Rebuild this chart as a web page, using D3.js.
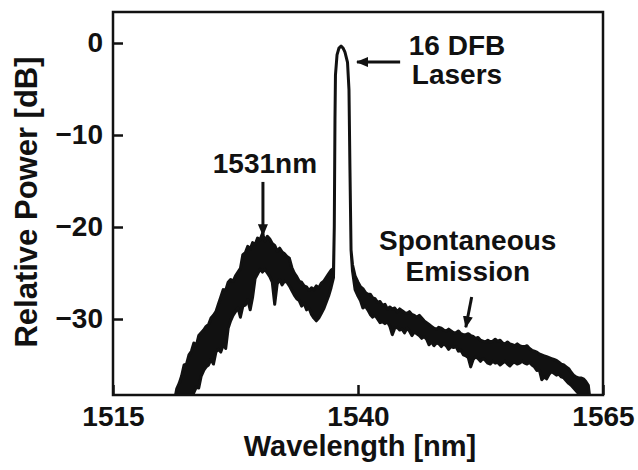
<!DOCTYPE html>
<html lang="en">
  <head>
    <meta charset="UTF-8" />
    <title>Spectrum</title>
    <script src="https://cdn.jsdelivr.net/npm/d3@7"></script>
    <style>
      body { margin: 0; background: #fff; }
      text { font-family: "Liberation Sans", Arial, Helvetica, sans-serif; font-weight: bold; fill: #111; }
    </style>
  </head>

  <body>
    <svg width="638" height="470"></svg>
    <script>
      // trace: upper and lower edge of the noisy band [dB]
      const wavelength = [
        1521, 1521.25, 1521.5, 1521.75, 1522, 1522.25, 1522.5, 1522.75,
        1523, 1523.25, 1523.5, 1523.75, 1524, 1524.25, 1524.5, 1524.75,
        1525, 1525.25, 1525.5, 1525.75, 1526, 1526.25, 1526.5, 1526.75,
        1527, 1527.25, 1527.5, 1527.75, 1528, 1528.25, 1528.5, 1528.75,
        1529, 1529.25, 1529.5, 1529.75, 1530, 1530.25, 1530.5, 1530.75,
        1531, 1531.25, 1531.5, 1531.75, 1532, 1532.25, 1532.5, 1532.75,
        1533, 1533.25, 1533.5, 1533.75, 1534, 1534.25, 1534.5, 1534.75,
        1535, 1535.25, 1535.5, 1535.75, 1536, 1536.25, 1536.5, 1536.75,
        1537, 1537.25, 1537.5,
        1537.58, 1537.65, 1537.7, 1537.86, 1538.06, 1538.27, 1538.47, 1538.67,
        1538.93, 1539.08, 1539.18, 1539.29, 1539.44,
        1539.7,
        1540, 1540.25, 1540.5, 1540.75, 1541, 1541.25, 1541.5, 1541.75,
        1542, 1542.25, 1542.5, 1542.75, 1543, 1543.25, 1543.5, 1543.75,
        1544, 1544.25, 1544.5, 1544.75, 1545, 1545.25, 1545.5, 1545.75,
        1546, 1546.25, 1546.5, 1546.75, 1547, 1547.25, 1547.5, 1547.75,
        1548, 1548.25, 1548.5, 1548.75, 1549, 1549.25, 1549.5, 1549.75,
        1550, 1550.25, 1550.5, 1550.75, 1551, 1551.25, 1551.5, 1551.75,
        1552, 1552.25, 1552.5, 1552.75, 1553, 1553.25, 1553.5, 1553.75,
        1554, 1554.25, 1554.5, 1554.75, 1555, 1555.25, 1555.5, 1555.75,
        1556, 1556.25, 1556.5, 1556.75, 1557, 1557.25, 1557.5, 1557.75,
        1558, 1558.25, 1558.5, 1558.75, 1559, 1559.25, 1559.5, 1559.75,
        1560, 1560.25, 1560.5, 1560.75, 1561, 1561.25, 1561.5, 1561.75,
        1562, 1562.25, 1562.5, 1562.75, 1563, 1563.25, 1563.5,
        1563.7
      ];
      const upper = [
        -40.0, -39.0, -37.6, -37.0, -36.2, -35.0, -34.9, -33.9,
        -33.5, -32.6, -32.9, -31.8, -31.5, -31.2, -30.8, -30.6,
        -29.9, -29.6, -29.2, -28.4, -27.6, -26.8, -26.9, -26.0,
        -25.7, -25.9, -25.3, -24.9, -24.5, -23.0, -22.8, -22.1,
        -22.4, -21.7, -21.9, -21.2, -21.4, -20.7, -21.5, -21.0,
        -21.3, -21.8, -22.0, -22.6, -22.3, -22.7, -22.9, -23.2,
        -23.4, -24.4, -25.0, -25.4, -25.9, -26.0, -26.4, -26.5,
        -26.9, -26.6, -26.8, -26.4, -26.6, -26.1, -25.9, -25.5,
        -25.1, -24.7, -24.5,
        -20.0, -8.4, -3.5, -1.3, -0.54, -0.33, -0.54, -1.0,
        -2.1, -5.1, -13.8, -22.5, -24.1,
        -25.3,
        -26.0, -26.5, -26.7, -27.1, -27.3, -27.3, -27.7, -27.8,
        -28.2, -28.1, -28.5, -28.4, -28.9, -28.7, -28.9, -28.8,
        -29.2, -28.9, -29.1, -29.3, -29.4, -29.2, -29.5, -29.6,
        -29.8, -29.6, -29.9, -30.2, -30.4, -30.6, -30.8, -31.0,
        -31.1, -30.9, -31.0, -31.2, -31.3, -31.1, -31.3, -31.5,
        -31.5, -31.3, -31.6, -31.7, -31.7, -31.6, -31.8, -31.9,
        -32.1, -32.0, -32.3, -32.4, -32.5, -32.3, -32.5, -32.4,
        -32.2, -32.4, -32.3, -32.6, -32.7, -32.5, -32.7, -32.8,
        -32.9, -32.7, -32.9, -33.0, -33.0, -32.9, -33.2, -33.4,
        -33.5, -33.6, -33.8, -33.9, -34.0, -34.1, -34.2, -34.3,
        -34.4, -34.5, -34.7, -34.9, -35.0, -35.2, -35.4, -35.8,
        -36.1, -36.3, -36.4, -36.4, -36.5, -36.8, -37.2,
        -39.0
      ];
      const lower = [
        -44.0, -44.0, -43.0, -42.5, -41.0, -40.5, -39.6, -39.8,
        -38.5, -38.0, -37.4, -37.5, -36.2, -35.6, -35.2, -35.0,
        -34.4, -34.9, -33.6, -33.3, -33.6, -32.8, -33.2, -31.0,
        -30.2, -29.6, -29.2, -28.8, -29.8, -28.6, -28.5, -27.9,
        -29.0, -27.6, -25.6, -25.1, -24.6, -24.9, -24.6, -25.0,
        -25.4, -26.0, -28.4, -26.2, -25.7, -26.3, -25.9, -26.0,
        -26.4, -26.9, -27.4, -27.8, -28.0, -28.6, -28.3, -29.0,
        -28.8, -29.5, -29.9, -30.2, -29.9, -29.4, -28.9, -28.2,
        -27.5, -26.6, -25.5,
        -20.0, -8.4, -3.5, -1.3, -0.54, -0.33, -0.54, -1.0,
        -2.1, -5.1, -13.8, -22.5, -24.8,
        -26.8,
        -27.5, -28.0, -28.8, -28.6, -29.0, -29.5, -29.8, -29.6,
        -30.0, -30.4, -30.3, -30.5, -30.3, -30.8, -31.7, -31.0,
        -30.9, -31.2, -31.1, -31.5, -31.0, -31.3, -31.8, -31.4,
        -31.6, -31.8, -32.1, -31.9, -32.2, -32.8, -32.5, -32.9,
        -32.6, -32.7, -33.0, -32.7, -32.9, -33.3, -33.0, -33.1,
        -33.0, -33.5, -33.4, -33.9, -34.0, -34.2, -35.2, -34.4,
        -34.1, -34.3, -34.6, -34.3, -34.5, -34.8, -34.9, -34.6,
        -34.8, -34.7, -35.0, -34.8, -34.6, -34.9, -35.1, -34.8,
        -34.7, -34.9, -34.8, -34.6, -34.8, -34.9, -34.7, -35.0,
        -35.2, -35.6, -35.5, -36.6, -36.3, -36.5, -36.0, -35.7,
        -35.9, -36.1, -36.0, -36.3, -36.4, -36.7, -37.0, -37.2,
        -37.5, -37.8, -38.1, -38.4, -38.6, -39.0, -39.5,
        -41.0
      ];
      const xTicks = [1515, 1540, 1565];
      const yTicks = [0, -10, -20, -30];

      const svg = d3.select("svg");
      const frame = { left: 113, right: 603, top: 12, bottom: 395 };

      const x = d3.scaleLinear().domain([1515, 1565]).range([frame.left, frame.right]);
      const y = d3.scaleLinear().domain([-38.26, 3.37]).range([frame.bottom, frame.top]);

      const defs = svg.append("defs");
      defs.append("clipPath")
        .attr("id", "plot")
        .append("rect")
        .attr("x", frame.left)
        .attr("y", frame.top)
        .attr("width", frame.right - frame.left)
        .attr("height", frame.bottom - frame.top);

      const pts = wavelength.map((w, i) => ({ w: w, hi: upper[i], lo: lower[i] }));

      const band = d3
        .area()
        .x((d) => x(d.w))
        .y0((d) => y(d.lo))
        .y1((d) => y(d.hi));

      svg.append("path")
        .datum(pts)
        .attr("clip-path", "url(#plot)")
        .attr("fill", "#111")
        .attr("stroke", "#111")
        .attr("stroke-width", 3)
        .attr("stroke-linejoin", "round")
        .attr("d", band);

      // frame
      svg.append("rect")
        .attr("x", frame.left)
        .attr("y", frame.top)
        .attr("width", frame.right - frame.left)
        .attr("height", frame.bottom - frame.top)
        .attr("fill", "none")
        .attr("stroke", "#111")
        .attr("stroke-width", 2.5);

      const yAxis = svg.append("g")
        .attr("transform", "translate(" + frame.left + ",0)")
        .call(d3.axisLeft(y).tickValues(yTicks).tickSize(-10).tickPadding(10));
      const xAxis = svg.append("g")
        .attr("transform", "translate(0," + frame.bottom + ")")
        .call(d3.axisBottom(x).tickValues(xTicks).tickSize(-10).tickPadding(11).tickFormat(d3.format("d")));

      [xAxis, yAxis].forEach((a) => {
        a.select(".domain").remove();
        a.selectAll("line").attr("stroke", "#111").attr("stroke-width", 2.5);
        a.selectAll("text")
          .attr("font-size", 28)
          .attr("fill", "#111")
          .attr("font-family", "Liberation Sans, Arial, sans-serif")
          .attr("font-weight", "bold");
      });

      svg.append("text")
        .attr("x", 360)
        .attr("y", 456)
        .attr("text-anchor", "middle")
        .attr("font-size", 29)
        .text("Wavelength [nm]");

      svg.append("text")
        .attr("transform", "translate(37,202) rotate(-90)")
        .attr("text-anchor", "middle")
        .attr("font-size", 31)
        .text("Relative Power [dB]");

      // annotations, placed in data units
      const labels = [
        { w: 1530.5, db: -14.1, t: "1531nm" },
        { w: 1550.1, db: -1.35, t: "16 DFB" },
        { w: 1550.1, db: -4.5, t: "Lasers" },
        { w: 1551.2, db: -22.55, t: "Spontaneous" },
        { w: 1551.2, db: -25.9, t: "Emission" }
      ];
      const arrows = [
        { w0: 1530.3, d0: -15.1, w1: 1530.3, d1: -20.9 },
        { w0: 1544.3, d0: -2.07, w1: 1539.9, d1: -2.07 },
        { w0: 1551.6, d0: -27.6, w1: 1551.0, d1: -30.9 }
      ];

      defs.append("marker")
        .attr("id", "head")
        .attr("viewBox", "0 0 12 10")
        .attr("refX", 11)
        .attr("refY", 5)
        .attr("markerWidth", 12)
        .attr("markerHeight", 10)
        .attr("markerUnits", "userSpaceOnUse")
        .attr("orient", "auto")
        .append("path")
        .attr("d", "M0,0L12,5L0,10Z")
        .attr("fill", "#111");

      svg.selectAll(".note")
        .data(labels)
        .join("text")
        .attr("class", "note")
        .attr("x", (d) => x(d.w))
        .attr("y", (d) => y(d.db))
        .attr("text-anchor", "middle")
        .attr("font-size", 28)
        .text((d) => d.t);

      svg.selectAll(".arrow")
        .data(arrows)
        .join("line")
        .attr("class", "arrow")
        .attr("x1", (d) => x(d.w0))
        .attr("y1", (d) => y(d.d0))
        .attr("x2", (d) => x(d.w1))
        .attr("y2", (d) => y(d.d1))
        .attr("stroke", "#111")
        .attr("stroke-width", 3)
        .attr("marker-end", "url(#head)");
    </script>
  </body>
</html>
